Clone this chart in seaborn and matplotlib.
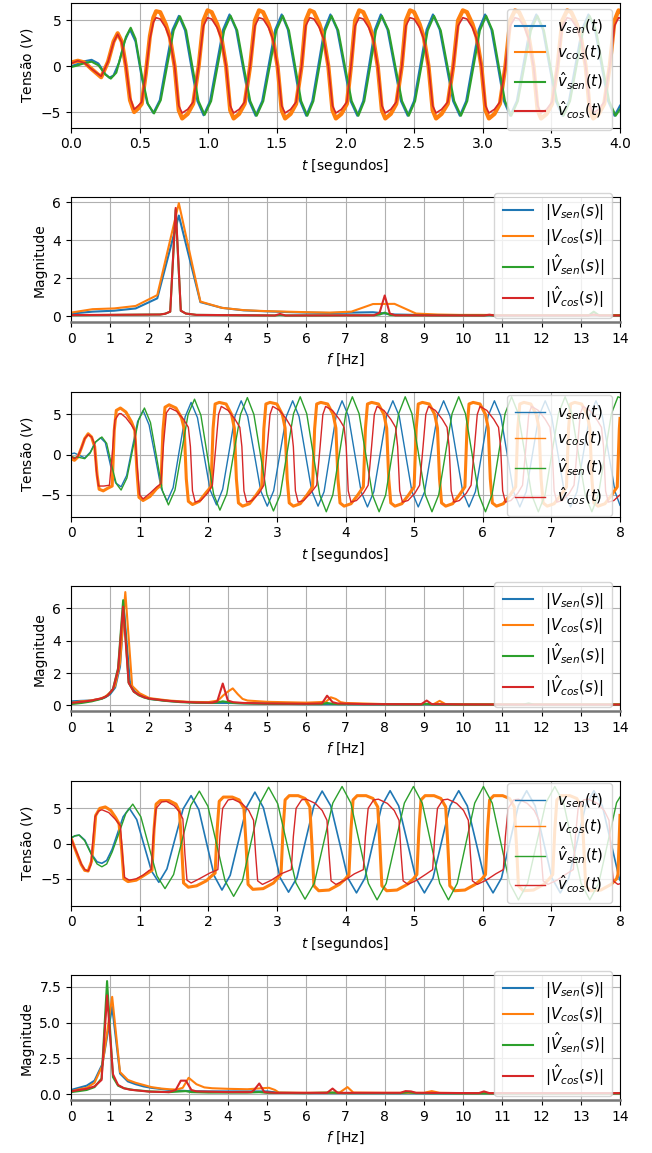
import matplotlib
matplotlib.use("Agg")
import matplotlib.pyplot as plt
import seaborn as sns

# ---- panel 1: time response, t in [0, 4] s  (t, V) pairs
p1_vsen = [(0.00, 0.0), (0.05, 0.25), (0.10, 0.55), (0.15, 0.7), (0.20, 0.3), (0.25, -0.85), (0.28, -1.25),
           (0.31, -1.0), (0.35, 0.4), (0.39, 2.7), (0.43, 4.0), (0.47, 2.7), (0.515, -1.2), (0.555, -4.0),
           (0.600, -5.1), (0.647, -3.7), (0.693, 0.2), (0.740, 4.0), (0.786, 5.5), (0.831, 3.9), (0.876, 0.0),
           (0.921, -3.8), (0.966, -5.35), (1.013, -3.8), (1.060, 0.1), (1.108, 4.0), (1.155, 5.65), (1.203, 4.0),
           (1.250, 0.1), (1.298, -3.8), (1.345, -5.4), (1.393, -3.8), (1.440, 0.1), (1.488, 4.0), (1.535, 5.65),
           (1.580, 4.0), (1.625, 0.1), (1.669, -3.8), (1.714, -5.4), (1.758, -3.8), (1.802, 0.1), (1.846, 4.0),
           (1.890, 5.65), (1.939, 4.0), (1.988, 0.1), (2.037, -3.8), (2.086, -5.4), (2.129, -3.8), (2.172, 0.1),
           (2.214, 4.0), (2.257, 5.65), (2.306, 4.0), (2.355, 0.1), (2.404, -3.8), (2.453, -5.4), (2.499, -3.8),
           (2.545, 0.1), (2.591, 4.0), (2.637, 5.65), (2.686, 4.0), (2.735, 0.1), (2.784, -3.8), (2.833, -5.4),
           (2.879, -3.8), (2.925, 0.1), (2.971, 4.0), (3.017, 5.65), (3.063, 4.0), (3.109, 0.1), (3.154, -3.8),
           (3.200, -5.4), (3.248, -3.8), (3.295, 0.1), (3.343, 4.0), (3.390, 5.65), (3.438, 4.0), (3.485, 0.1),
           (3.533, -3.8), (3.580, -5.4), (3.628, -3.8), (3.675, 0.1), (3.723, 4.0), (3.770, 5.65), (3.818, 4.0),
           (3.865, 0.1), (3.913, -3.8), (3.960, -5.4), (4.000, -4.3)]
p1_vcos = [(0.00, 0.4), (0.05, 0.6), (0.10, 0.4), (0.15, -0.3), (0.22, -1.2), (0.27, 0.5), (0.31, 2.7), (0.34, 3.6),
           (0.37, 2.7), (0.40, 0.0), (0.43, -3.7), (0.46, -5.0), (0.49, -4.6), (0.515, -4.1), (0.545, -0.8),
           (0.575, 3.3), (0.60, 5.3),
           (0.62, 6.0), (0.65, 5.9), (0.69, 4.6), (0.72, 3.2), (0.755, 0.0), (0.785, -4.8), (0.81, -5.7),
           (0.85, -5.2), (0.89, -4.1), (0.93, 0.0), (0.965, 5.0),
           (0.995, 6.1), (1.025, 5.9), (1.065, 4.6), (1.095, 3.2), (1.13, 0.0), (1.16, -4.8), (1.185, -5.7),
           (1.225, -5.2), (1.265, -4.1), (1.305, 0.0), (1.34, 5.0),
           (1.37, 6.1), (1.40, 5.9), (1.44, 4.6), (1.47, 3.2), (1.505, 0.0), (1.535, -4.8), (1.56, -5.7),
           (1.60, -5.2), (1.64, -4.1), (1.68, 0.0), (1.71, 5.0),
           (1.74, 6.1), (1.77, 5.9), (1.81, 4.6), (1.84, 3.2), (1.875, 0.0), (1.905, -4.8), (1.93, -5.7),
           (1.97, -5.2), (2.01, -4.1), (2.04, 0.0), (2.07, 5.0),
           (2.10, 6.1), (2.13, 5.9), (2.17, 4.6), (2.20, 3.2), (2.235, 0.0), (2.265, -4.8), (2.29, -5.7),
           (2.33, -5.2), (2.37, -4.1), (2.41, 0.0), (2.44, 5.0),
           (2.47, 6.1), (2.50, 5.9), (2.54, 4.6), (2.57, 3.2), (2.605, 0.0), (2.635, -4.8), (2.66, -5.7),
           (2.70, -5.2), (2.745, -4.1), (2.785, 0.0), (2.82, 5.0),
           (2.855, 6.1), (2.885, 5.9), (2.925, 4.6), (2.955, 3.2), (2.99, 0.0), (3.02, -4.8), (3.045, -5.7),
           (3.085, -5.2), (3.125, -4.1), (3.165, 0.0), (3.20, 5.0),
           (3.235, 6.1), (3.265, 5.9), (3.305, 4.6), (3.335, 3.2), (3.37, 0.0), (3.40, -4.8), (3.425, -5.7),
           (3.465, -5.2), (3.505, -4.1), (3.545, 0.0), (3.58, 5.0),
           (3.615, 6.1), (3.645, 5.9), (3.685, 4.6), (3.715, 3.2), (3.75, 0.0), (3.78, -4.8), (3.805, -5.7),
           (3.845, -5.2), (3.885, -4.1), (3.925, 0.0), (3.96, 5.0),
           (3.99, 6.1), (4.00, 6.0)]
p1_vsen_hat = [(0.00, -0.1), (0.05, 0.1), (0.10, 0.35), (0.15, 0.5), (0.20, 0.1), (0.25, -0.9), (0.29, -1.35),
               (0.33, -0.7), (0.37, 1.5), (0.40, 3.2), (0.435, 4.2), (0.47, 3.0), (0.52, -1.3), (0.56, -4.1),
               (0.605, -5.15), (0.654, -3.7), (0.701, 0.1), (0.748, 3.9), (0.794, 5.45), (0.839, 3.9), (0.884, 0.0),
               (0.929, -3.8), (0.974, -5.3), (1.021, -3.8), (1.068, 0.0), (1.116, 3.9), (1.163, 5.5), (1.211, 3.9),
               (1.258, 0.0), (1.306, -3.8), (1.353, -5.4), (1.401, -3.8), (1.448, 0.0), (1.496, 3.9), (1.543, 5.5),
               (1.588, 3.9), (1.633, 0.0), (1.677, -3.8), (1.722, -5.4), (1.766, -3.8), (1.810, 0.0), (1.854, 3.9),
               (1.898, 5.5), (1.947, 3.9), (1.996, 0.0), (2.045, -3.8), (2.094, -5.4), (2.137, -3.8), (2.180, 0.0),
               (2.222, 3.9), (2.265, 5.5), (2.314, 3.9), (2.363, 0.0), (2.412, -3.8), (2.461, -5.4), (2.507, -3.8),
               (2.553, 0.0), (2.599, 3.9), (2.645, 5.5), (2.694, 3.9), (2.743, 0.0), (2.792, -3.8), (2.841, -5.4),
               (2.887, -3.8), (2.933, 0.0), (2.979, 3.9), (3.025, 5.5), (3.071, 3.9), (3.117, 0.0), (3.162, -3.8),
               (3.208, -5.4), (3.256, -3.8), (3.303, 0.0), (3.351, 3.9), (3.398, 5.5), (3.446, 3.9), (3.493, 0.0),
               (3.541, -3.8), (3.588, -5.4), (3.636, -3.8), (3.683, 0.0), (3.731, 3.9), (3.778, 5.5), (3.826, 3.9),
               (3.873, 0.0), (3.921, -3.8), (3.968, -5.4), (4.000, -4.7)]
p1_vcos_hat = [(0.00, 0.3), (0.05, 0.6), (0.10, 0.35), (0.15, -0.3), (0.22, -1.1), (0.27, 0.5), (0.31, 2.6),
               (0.34, 3.5), (0.37, 2.6), (0.40, 0.0), (0.43, -3.4), (0.46, -4.7), (0.49, -4.3), (0.515, -3.9),
               (0.545, -0.8), (0.575, 3.0), (0.60, 4.8),
               (0.62, 5.3), (0.65, 5.15), (0.69, 4.2), (0.72, 3.0), (0.755, 0.0), (0.785, -4.3), (0.81, -5.1),
               (0.85, -4.7), (0.89, -3.9), (0.93, 0.0), (0.965, 4.4),
               (0.995, 5.3), (1.025, 5.15), (1.065, 4.2), (1.095, 3.0), (1.13, 0.0), (1.16, -4.3), (1.185, -5.1),
               (1.225, -4.7), (1.265, -3.9), (1.305, 0.0), (1.34, 4.4),
               (1.37, 5.3), (1.40, 5.15), (1.44, 4.2), (1.47, 3.0), (1.505, 0.0), (1.535, -4.3), (1.56, -5.1),
               (1.60, -4.7), (1.64, -3.9), (1.68, 0.0), (1.71, 4.4),
               (1.74, 5.3), (1.77, 5.15), (1.81, 4.2), (1.84, 3.0), (1.875, 0.0), (1.905, -4.3), (1.93, -5.1),
               (1.97, -4.7), (2.01, -3.9), (2.04, 0.0), (2.07, 4.4),
               (2.10, 5.3), (2.13, 5.15), (2.17, 4.2), (2.20, 3.0), (2.235, 0.0), (2.265, -4.3), (2.29, -5.1),
               (2.33, -4.7), (2.37, -3.9), (2.41, 0.0), (2.44, 4.4),
               (2.47, 5.3), (2.50, 5.15), (2.54, 4.2), (2.57, 3.0), (2.605, 0.0), (2.635, -4.3), (2.66, -5.1),
               (2.70, -4.7), (2.745, -3.9), (2.785, 0.0), (2.82, 4.4),
               (2.855, 5.3), (2.885, 5.15), (2.925, 4.2), (2.955, 3.0), (2.99, 0.0), (3.02, -4.3), (3.045, -5.1),
               (3.085, -4.7), (3.125, -3.9), (3.165, 0.0), (3.20, 4.4),
               (3.235, 5.3), (3.265, 5.15), (3.305, 4.2), (3.335, 3.0), (3.37, 0.0), (3.40, -4.3), (3.425, -5.1),
               (3.465, -4.7), (3.505, -3.9), (3.545, 0.0), (3.58, 4.4),
               (3.615, 5.3), (3.645, 5.15), (3.685, 4.2), (3.715, 3.0), (3.75, 0.0), (3.78, -4.3), (3.805, -5.1),
               (3.845, -4.7), (3.885, -3.9), (3.925, 0.0), (3.96, 4.4),
               (3.99, 5.3), (4.00, 5.25)]

# ---- panel 3: time response, t in [0, 8] s
p3_vsen = [(0.00, 0.1), (0.05, 0.2), (0.10, 0.0), (0.20, -0.4), (0.28, 0.3), (0.35, 1.5), (0.43, 2.1), (0.50, 1.5),
           (0.58, -1.5), (0.65, -3.5), (0.73, -4.0), (0.81, -2.6), (0.89, 0.75), (0.97, 4.1), (1.05, 5.5),
           (1.138, 3.7), (1.225, -0.15), (1.313, -4.15), (1.40, -5.8), (1.488, -4.1), (1.575, 0.35), (1.663, 4.7),
           (1.75, 6.5), (1.843, 4.6), (1.935, 0.1), (2.028, -4.4), (2.12, -6.25), (2.21, -4.3), (2.30, 0.2),
           (2.39, 4.8), (2.48, 6.7), (2.575, 4.75), (2.67, 0.15), (2.765, -4.5), (2.86, -6.4), (2.953, -4.5),
           (3.045, 0.15), (3.138, 4.75), (3.23, 6.7), (3.323, 4.75), (3.415, 0.15), (3.508, -4.5), (3.60, -6.4),
           (3.688, -4.6), (3.775, 0.1), (3.863, 4.8), (3.95, 6.7), (4.043, 4.8), (4.135, 0.1), (4.228, -4.6),
           (4.32, -6.5), (4.413, -4.6), (4.505, 0.1), (4.598, 4.8), (4.69, 6.7), (4.783, 4.8), (4.875, 0.1),
           (4.968, -4.6), (5.06, -6.5), (5.153, -4.6), (5.245, 0.1), (5.338, 4.8), (5.43, 6.7), (5.523, 4.8),
           (5.615, 0.1), (5.708, -4.6), (5.80, -6.5), (5.893, -4.6), (5.985, 0.1), (6.078, 4.8), (6.17, 6.7),
           (6.263, 4.8), (6.355, 0.1), (6.448, -4.6), (6.54, -6.5), (6.633, -4.6), (6.725, 0.1), (6.818, 4.8),
           (6.91, 6.7), (7.003, 4.8), (7.095, 0.1), (7.188, -4.6), (7.28, -6.5), (7.373, -4.6), (7.465, 0.1),
           (7.558, 4.8), (7.65, 6.7), (7.743, 4.8), (7.835, 0.1), (7.928, -4.6), (8.00, -6.3)]
p3_vcos = [(0.00, -0.5), (0.05, -0.7), (0.10, -0.3), (0.15, 0.8), (0.20, 2.0), (0.25, 2.6), (0.30, 2.2), (0.345, 1.0),
           (0.38, -2.5), (0.41, -4.3), (0.47, -4.5), (0.53, -4.2),
           (0.60, -3.9), (0.63, 3.0), (0.66, 5.5), (0.72, 5.8), (0.80, 5.3), (0.88, 4.1), (0.93, 3.0), (0.96, -2.0),
           (0.99, -5.3), (1.05, -5.7), (1.15, -5.2), (1.25, -4.2),
           (1.31, -3.8), (1.34, 3.0), (1.37, 5.9), (1.43, 6.2), (1.53, 5.8), (1.61, 4.6), (1.65, 3.2), (1.68, -3.0),
           (1.71, -5.8), (1.77, -6.2), (1.87, -5.8), (1.97, -4.7),
           (2.04, -4.0), (2.07, 3.2), (2.10, 6.3), (2.16, 6.5), (2.26, 6.3), (2.34, 5.0), (2.38, 3.3), (2.41, -3.0),
           (2.44, -6.0), (2.50, -6.4), (2.60, -6.1), (2.70, -5.0),
           (2.78, -4.0), (2.81, 3.2), (2.84, 6.3), (2.90, 6.5), (3.00, 6.3), (3.08, 5.0), (3.12, 3.3), (3.15, -3.0),
           (3.18, -6.0), (3.24, -6.4), (3.34, -6.1), (3.44, -5.0),
           (3.52, -4.0), (3.55, 3.2), (3.58, 6.3), (3.64, 6.5), (3.74, 6.3), (3.82, 5.0), (3.86, 3.3), (3.89, -3.0),
           (3.92, -6.0), (3.98, -6.4), (4.08, -6.1), (4.18, -5.0),
           (4.26, -4.0), (4.29, 3.2), (4.32, 6.3), (4.38, 6.5), (4.48, 6.3), (4.56, 5.0), (4.60, 3.3), (4.63, -3.0),
           (4.66, -6.0), (4.72, -6.4), (4.82, -6.1), (4.92, -5.0),
           (5.00, -4.0), (5.03, 3.2), (5.06, 6.3), (5.12, 6.5), (5.22, 6.3), (5.30, 5.0), (5.34, 3.3), (5.37, -3.0),
           (5.40, -6.0), (5.46, -6.4), (5.56, -6.1), (5.66, -5.0),
           (5.74, -4.0), (5.77, 3.2), (5.80, 6.3), (5.86, 6.5), (5.96, 6.3), (6.04, 5.0), (6.08, 3.3), (6.11, -3.0),
           (6.14, -6.0), (6.20, -6.4), (6.30, -6.1), (6.40, -5.0),
           (6.48, -4.0), (6.51, 3.2), (6.54, 6.3), (6.60, 6.5), (6.70, 6.3), (6.78, 5.0), (6.82, 3.3), (6.85, -3.0),
           (6.88, -6.0), (6.94, -6.4), (7.04, -6.1), (7.14, -5.0),
           (7.22, -4.0), (7.25, 3.2), (7.28, 6.3), (7.34, 6.5), (7.44, 6.3), (7.52, 5.0), (7.56, 3.3), (7.59, -3.0),
           (7.62, -6.0), (7.68, -6.4), (7.78, -6.1), (7.88, -5.0),
           (7.96, -4.0), (7.99, 3.2), (8.00, 4.5)]
p3_vsen_hat = [(0.00, -0.2), (0.05, -0.35), (0.10, -0.3), (0.20, -0.5), (0.28, 0.2), (0.36, 1.6), (0.45, 2.2),
               (0.52, 1.4), (0.60, -1.6), (0.66, -3.6), (0.73, -4.4), (0.815, -2.9), (0.90, 0.7), (0.985, 4.3),
               (1.07, 5.8), (1.158, 4.0), (1.245, -0.2), (1.333, -4.5), (1.42, -6.25), (1.515, -4.4), (1.61, 0.3),
               (1.705, 4.95), (1.80, 6.9), (1.893, 4.9), (1.985, 0.0), (2.078, -4.9), (2.17, -6.9), (2.27, -4.9),
               (2.37, 0.1), (2.47, 5.0), (2.57, 7.1), (2.665, 5.0), (2.76, 0.05), (2.855, -4.95), (2.95, -7.0),
               (3.048, -5.0), (3.145, 0.05), (3.243, 5.1), (3.34, 7.2), (3.435, 5.1), (3.53, 0.05), (3.625, -5.0),
               (3.72, -7.1), (3.815, -5.0), (3.91, 0.05), (4.005, 5.1), (4.10, 7.2), (4.198, 5.1), (4.295, 0.05),
               (4.393, -5.0), (4.49, -7.1), (4.585, -5.0), (4.68, 0.05), (4.775, 5.1), (4.87, 7.2), (4.968, 5.1),
               (5.065, 0.05), (5.163, -5.0), (5.26, -7.1), (5.358, -5.0), (5.455, 0.05), (5.553, 5.1), (5.65, 7.2),
               (5.748, 5.1), (5.845, 0.05), (5.943, -5.0), (6.04, -7.1), (6.135, -5.0), (6.23, 0.05), (6.325, 5.1),
               (6.42, 7.2), (6.518, 5.1), (6.615, 0.05), (6.713, -5.0), (6.81, -7.1), (6.908, -5.0), (7.005, 0.05),
               (7.103, 5.1), (7.20, 7.2), (7.298, 5.1), (7.395, 0.05), (7.493, -5.0), (7.59, -7.1), (7.685, -5.0),
               (7.78, 0.05), (7.875, 5.1), (7.97, 7.2), (8.00, 7.1)]
p3_vcos_hat = [(0.00, -0.2), (0.05, -0.5), (0.10, -0.2), (0.15, 0.8), (0.20, 2.0), (0.25, 2.5), (0.30, 2.2),
               (0.34, 1.4), (0.37, -2.0), (0.40, -3.9), (0.48, -3.9), (0.56, -3.8),
               (0.60, 0.0), (0.64, 4.3), (0.70, 5.1), (0.73, 5.1), (0.80, 4.6), (0.88, 3.7), (0.93, 3.0), (0.96, -1.0),
               (1.00, -5.0), (1.05, -5.5), (1.15, -4.8), (1.25, -4.0), (1.31, -3.6), (1.35, 1.5), (1.39, 5.2),
               (1.44, 5.8), (1.54, 5.4), (1.64, 4.4), (1.71, 3.4), (1.74, 1.0), (1.77, -4.5), (1.81, -5.9),
               (1.89, -5.7), (1.99, -4.8), (2.06, -3.8), (2.11, 1.0), (2.15, 5.0),
               (2.19, 6.0), (2.29, 5.5), (2.39, 4.4), (2.46, 3.4), (2.49, 1.0), (2.52, -4.5), (2.56, -5.9),
               (2.64, -5.7), (2.74, -4.8), (2.81, -3.8), (2.86, 1.0), (2.90, 5.0),
               (2.94, 6.0), (3.04, 5.5), (3.14, 4.4), (3.21, 3.4), (3.24, 1.0), (3.27, -4.5), (3.31, -5.9),
               (3.39, -5.7), (3.49, -4.8), (3.58, -3.8), (3.63, 1.0), (3.67, 5.0),
               (3.71, 6.0), (3.81, 5.5), (3.91, 4.4), (3.98, 3.4), (4.01, 1.0), (4.04, -4.5), (4.08, -5.9),
               (4.16, -5.7), (4.26, -4.8), (4.33, -3.8), (4.38, 1.0), (4.42, 5.0),
               (4.46, 6.0), (4.56, 5.5), (4.66, 4.4), (4.73, 3.4), (4.76, 1.0), (4.79, -4.5), (4.83, -5.9),
               (4.91, -5.7), (5.01, -4.8), (5.08, -3.8), (5.13, 1.0), (5.17, 5.0),
               (5.21, 6.0), (5.31, 5.5), (5.41, 4.4), (5.48, 3.4), (5.51, 1.0), (5.54, -4.5), (5.58, -5.9),
               (5.66, -5.7), (5.76, -4.8), (5.83, -3.8), (5.88, 1.0), (5.92, 5.0),
               (5.96, 6.0), (6.06, 5.5), (6.16, 4.4), (6.23, 3.4), (6.26, 1.0), (6.29, -4.5), (6.33, -5.9),
               (6.41, -5.7), (6.51, -4.8), (6.58, -3.8), (6.63, 1.0), (6.67, 5.0),
               (6.71, 6.0), (6.81, 5.5), (6.91, 4.4), (6.98, 3.4), (7.01, 1.0), (7.04, -4.5), (7.08, -5.9),
               (7.16, -5.7), (7.26, -4.8), (7.33, -3.8), (7.38, 1.0), (7.42, 5.0),
               (7.46, 6.0), (7.56, 5.5), (7.66, 4.4), (7.73, 3.4), (7.76, 1.0), (7.79, -4.5), (7.83, -5.9),
               (7.91, -5.7), (8.00, -5.0)]

# ---- panel 5: time response, t in [0, 8] s
p5_vsen = [(0.00, 0.8), (0.06, 1.1), (0.12, 1.2), (0.20, 0.5), (0.30, -1.5), (0.38, -2.6), (0.45, -2.8), (0.52, -2.4),
           (0.60, -0.8), (0.68, 1.5), (0.76, 3.8), (0.85, 5.0), (0.958, 3.4), (1.065, -0.25), (1.173, -3.9),
           (1.28, -5.5), (1.398, -3.6), (1.515, 0.65), (1.633, 4.9), (1.75, 6.8), (1.863, 4.8), (1.975, 0.1),
           (2.088, -4.6), (2.20, -6.6), (2.32, -4.5), (2.44, 0.35), (2.56, 5.2), (2.68, 7.3), (2.803, 5.1),
           (2.925, 0.2), (3.048, -4.85), (3.17, -6.9), (3.293, -4.85), (3.415, 0.3), (3.538, 5.3), (3.66, 7.45),
           (3.785, 5.35), (3.91, 0.25), (4.035, -4.9), (4.16, -7.0), (4.283, -4.9), (4.405, 0.25), (4.528, 5.35),
           (4.65, 7.5), (4.775, 5.35), (4.90, 0.25), (5.025, -4.9), (5.15, -7.0), (5.275, -4.9), (5.40, 0.25),
           (5.525, 5.35), (5.65, 7.5), (5.775, 5.35), (5.90, 0.25), (6.025, -4.9), (6.15, -7.0), (6.273, -4.9),
           (6.395, 0.25), (6.518, 5.35), (6.64, 7.5), (6.763, 5.35), (6.885, 0.25), (7.008, -4.9), (7.13, -7.0),
           (7.253, -4.9), (7.375, 0.25), (7.498, 5.35), (7.62, 7.5), (7.743, 5.35), (7.865, 0.25), (7.988, -4.9),
           (8.00, -5.2)]
p5_vcos = [(0.00, 0.8), (0.05, -0.5), (0.10, -1.8), (0.15, -3.0), (0.20, -3.8), (0.25, -3.9), (0.30, -2.5), (0.33, 0.5),
           (0.36, 4.0), (0.42, 5.0), (0.50, 5.2), (0.58, 4.7), (0.65, 3.7), (0.70, 2.8), (0.74, -1.0), (0.77, -5.0),
           (0.83, -5.4), (0.95, -5.2), (1.05, -4.6),
           (1.18, -3.8), (1.21, 2.0), (1.24, 5.6), (1.30, 6.1), (1.43, 6.1), (1.53, 5.6), (1.58, 4.6), (1.61, 0.0),
           (1.64, -5.6), (1.71, -6.2), (1.83, -6.0), (1.97, -5.3), (2.06, -4.5),
           (2.10, -4.2), (2.13, 2.0), (2.16, 6.0), (2.22, 6.6), (2.35, 6.6), (2.45, 6.2), (2.52, 5.0), (2.55, 0.0),
           (2.58, -5.8), (2.65, -6.5), (2.80, -6.4), (2.95, -5.6), (3.02, -4.8),
           (3.06, -4.4), (3.09, 2.0), (3.12, 6.2), (3.18, 6.8), (3.31, 6.8), (3.41, 6.4), (3.48, 5.2), (3.51, 0.0),
           (3.54, -6.0), (3.61, -6.7), (3.76, -6.6), (3.91, -5.8), (4.00, -5.0),
           (4.05, -4.4), (4.08, 2.0), (4.11, 6.2), (4.17, 6.8), (4.30, 6.8), (4.40, 6.4), (4.47, 5.2), (4.50, 0.0),
           (4.53, -6.0), (4.60, -6.7), (4.75, -6.6), (4.90, -5.8), (4.99, -5.0),
           (5.04, -4.4), (5.07, 2.0), (5.10, 6.2), (5.16, 6.8), (5.29, 6.8), (5.39, 6.4), (5.46, 5.2), (5.49, 0.0),
           (5.52, -6.0), (5.59, -6.7), (5.74, -6.6), (5.89, -5.8), (5.99, -5.0),
           (6.04, -4.4), (6.07, 2.0), (6.10, 6.2), (6.16, 6.8), (6.29, 6.8), (6.39, 6.4), (6.46, 5.2), (6.49, 0.0),
           (6.52, -6.0), (6.59, -6.7), (6.74, -6.6), (6.89, -5.8), (6.97, -5.0),
           (7.02, -4.4), (7.05, 2.0), (7.08, 6.2), (7.14, 6.8), (7.27, 6.8), (7.37, 6.4), (7.44, 5.2), (7.47, 0.0),
           (7.50, -6.0), (7.57, -6.7), (7.72, -6.6), (7.87, -5.8), (7.95, -5.0),
           (7.97, -4.4), (8.00, 4.0)]
p5_vsen_hat = [(0.00, 0.8), (0.06, 1.1), (0.12, 1.2), (0.20, 0.4), (0.30, -1.6), (0.38, -2.9), (0.45, -3.3),
               (0.52, -2.9), (0.60, -1.2), (0.70, 1.5), (0.80, 4.3), (0.90, 5.6), (1.018, 3.8), (1.135, -0.4),
               (1.253, -4.6), (1.37, -6.4), (1.495, -4.4), (1.62, 0.5), (1.745, 5.4), (1.87, 7.45), (1.995, 5.3),
               (2.12, 0.0), (2.245, -5.3), (2.37, -7.5), (2.498, -5.3), (2.625, 0.25), (2.753, 5.7), (2.88, 8.0),
               (3.013, 5.65), (3.145, 0.05), (3.278, -5.6), (3.41, -7.9), (3.545, -5.65), (3.68, 0.05), (3.815, 5.75),
               (3.95, 8.1), (4.078, 5.75), (4.205, 0.05), (4.333, -5.65), (4.46, -8.0), (4.593, -5.65), (4.725, 0.05),
               (4.858, 5.75), (4.99, 8.1), (5.118, 5.75), (5.245, 0.05), (5.373, -5.65), (5.50, -8.0), (5.628, -5.65),
               (5.755, 0.05), (5.883, 5.75), (6.01, 8.1), (6.138, 5.75), (6.265, 0.05), (6.393, -5.65), (6.52, -8.0),
               (6.653, -5.65), (6.785, 0.05), (6.918, 5.75), (7.05, 8.1), (7.178, 5.75), (7.305, 0.05), (7.433, -5.65),
               (7.56, -8.0), (7.69, -5.65), (7.82, 0.05), (7.95, 5.8), (8.00, 6.6)]
p5_vcos_hat = [(0.00, 0.8), (0.05, -0.5), (0.10, -1.6), (0.15, -2.9), (0.20, -3.7), (0.25, -3.9), (0.29, -3.0),
               (0.32, 0.5), (0.35, 3.8), (0.40, 4.6), (0.45, 4.8), (0.55, 4.4), (0.65, 3.4), (0.72, 2.5), (0.75, -1.5),
               (0.78, -4.8), (0.85, -5.2), (0.95, -5.0), (1.05, -4.5), (1.14, -3.8),
               (1.17, -3.7), (1.20, 1.0), (1.24, 5.0), (1.32, 5.9), (1.39, 6.0), (1.50, 5.4), (1.58, 4.5), (1.63, 3.5),
               (1.66, -1.5), (1.69, -5.2), (1.75, -5.6), (1.87, -5.0), (2.02, -4.2),
               (2.14, -3.7), (2.17, 1.0), (2.21, 5.0), (2.29, 6.2), (2.36, 6.3), (2.49, 5.7), (2.59, 4.7), (2.66, 3.3),
               (2.69, -1.5), (2.72, -5.3), (2.79, -5.8), (2.92, -5.2), (3.06, -4.3),
               (3.21, -3.7), (3.24, 1.0), (3.28, 5.0), (3.36, 6.2), (3.43, 6.3), (3.56, 5.7), (3.66, 4.7), (3.73, 3.3),
               (3.76, -1.5), (3.79, -5.3), (3.86, -5.8), (3.99, -5.2), (4.13, -4.3),
               (4.26, -3.7), (4.29, 1.0), (4.33, 5.0), (4.41, 6.2), (4.48, 6.3), (4.61, 5.7), (4.71, 4.7), (4.78, 3.3),
               (4.81, -1.5), (4.84, -5.3), (4.91, -5.8), (5.04, -5.2), (5.18, -4.3),
               (5.27, -3.7), (5.30, 1.0), (5.34, 5.0), (5.42, 6.2), (5.49, 6.3), (5.62, 5.7), (5.72, 4.7), (5.79, 3.3),
               (5.82, -1.5), (5.85, -5.3), (5.92, -5.8), (6.05, -5.2), (6.19, -4.3),
               (6.30, -3.7), (6.33, 1.0), (6.37, 5.0), (6.45, 6.2), (6.52, 6.3), (6.65, 5.7), (6.75, 4.7), (6.82, 3.3),
               (6.85, -1.5), (6.88, -5.3), (6.95, -5.8), (7.08, -5.2), (7.22, -4.3),
               (7.32, -3.7), (7.35, 1.0), (7.39, 5.0), (7.47, 6.2), (7.54, 6.3), (7.67, 5.7), (7.77, 4.7), (7.84, 3.3),
               (7.87, -1.5), (7.90, -5.3), (7.97, -5.8), (8.00, -5.7)]

# ---- spectra (frequency in Hz, magnitude)
f2_coarse = [0.0, 0.55, 1.1, 1.65, 2.2, 2.75, 3.3, 3.85, 4.4, 4.95, 5.5, 6.05, 6.6, 7.15, 7.7, 8.25, 8.8, 9.35,
             9.9, 10.45, 11.0, 11.55, 12.1, 12.65, 13.2, 13.75, 14.3]
m2_vsen = [0.15, 0.25, 0.3, 0.42, 0.95, 5.3, 0.75, 0.45, 0.32, 0.27, 0.23, 0.2, 0.18, 0.2, 0.22, 0.1, 0.08, 0.07,
           0.07, 0.07, 0.06, 0.06, 0.06, 0.06, 0.06, 0.06, 0.06]
m2_vcos = [0.2, 0.38, 0.42, 0.55, 1.12, 5.95, 0.78, 0.45, 0.33, 0.28, 0.25, 0.22, 0.2, 0.25, 0.65, 0.66, 0.15, 0.1,
           0.08, 0.08, 0.07, 0.07, 0.07, 0.07, 0.07, 0.07, 0.07]
f2_fine = [0.0, 2.27, 2.4, 2.53, 2.67, 2.8, 2.93, 3.2, 5.2, 5.33, 5.47, 7.73, 7.87, 8.0, 8.13, 8.27, 10.53, 10.67,
           10.8, 13.2, 13.33, 13.47, 14.0]
m2_vsen_hat = [0.06, 0.1, 0.14, 0.25, 5.6, 0.3, 0.15, 0.08, 0.05, 0.08, 0.05, 0.06, 0.1, 0.2, 0.08, 0.06, 0.05,
               0.07, 0.05, 0.05, 0.25, 0.05, 0.05]
m2_vcos_hat = [0.07, 0.1, 0.14, 0.25, 5.7, 0.3, 0.15, 0.08, 0.05, 0.13, 0.05, 0.06, 0.2, 1.1, 0.15, 0.06, 0.05,
               0.09, 0.05, 0.05, 0.1, 0.05, 0.05]

f4_vsen = [0, 0.25, 0.5, 0.75, 0.875, 1.0, 1.125, 1.25, 1.35, 1.5, 1.625, 1.75, 2.0, 2.5, 3.0, 3.5, 4.0, 4.5, 5.0,
           6.0, 7.0, 8.0, 10.0, 12.0, 14.0]
m4_vsen = [0.25, 0.28, 0.3, 0.4, 0.5, 0.7, 1.1, 2.4, 5.9, 1.5, 0.85, 0.65, 0.4, 0.27, 0.2, 0.15, 0.15, 0.13, 0.1,
           0.08, 0.07, 0.06, 0.05, 0.05, 0.05]
f4_vcos = [0, 0.25, 0.5, 0.75, 0.875, 1.0, 1.125, 1.25, 1.385, 1.56, 1.75, 2.0, 2.5, 3.0, 3.5, 3.75, 3.875, 4.0,
           4.125, 4.25, 4.375, 4.5, 5.0, 6.0, 6.5, 6.625, 6.75, 6.875, 7.0, 8.0, 9.25, 9.4, 9.55, 10.0, 12.0, 14.0]
m4_vcos = [0.15, 0.25, 0.3, 0.42, 0.55, 0.8, 1.2, 2.6, 7.0, 1.2, 0.75, 0.45, 0.3, 0.22, 0.2, 0.3, 0.6, 0.85,
           1.05, 0.7, 0.4, 0.3, 0.22, 0.17, 0.22, 0.5, 0.4, 0.2, 0.15, 0.08, 0.08, 0.28, 0.08, 0.07, 0.07, 0.07]
f4_hat = [0, 0.27, 0.53, 0.8, 0.93, 1.07, 1.2, 1.33, 1.47, 1.6, 1.73, 1.87, 2.0, 2.4, 2.8, 3.2, 3.6, 3.73, 3.87,
          4.0, 4.13, 4.4, 5.0, 6.0, 6.4, 6.53, 6.67, 6.8, 7.5, 8.93, 9.07, 9.2, 10.0, 11.53, 11.67, 11.8, 14.0]
m4_vsen_hat = [0.08, 0.15, 0.25, 0.42, 0.6, 1.0, 2.3, 6.5, 1.4, 0.85, 0.62, 0.48, 0.4, 0.28, 0.2, 0.16, 0.15,
               0.18, 0.25, 0.2, 0.15, 0.12, 0.1, 0.08, 0.08, 0.15, 0.1, 0.08, 0.07, 0.06, 0.1, 0.06, 0.05, 0.05,
               0.12, 0.05, 0.05]
m4_vcos_hat = [0.15, 0.22, 0.3, 0.45, 0.6, 1.0, 2.2, 6.1, 1.4, 0.85, 0.65, 0.5, 0.42, 0.3, 0.22, 0.18, 0.17,
               0.25, 1.35, 0.3, 0.2, 0.15, 0.12, 0.1, 0.12, 0.6, 0.2, 0.12, 0.08, 0.07, 0.3, 0.08, 0.06, 0.05,
               0.05, 0.05, 0.05]

f6_vsen = [0, 0.2, 0.4, 0.6, 0.8, 1.05, 1.25, 1.45, 1.65, 1.85, 2.05, 2.5, 3.0, 3.5, 4.0, 4.5, 5.0, 5.3, 6.0,
           8.0, 10.0, 12.0, 14.0]
m6_vsen = [0.3, 0.45, 0.6, 0.95, 2.1, 6.1, 1.45, 0.9, 0.7, 0.55, 0.45, 0.3, 0.22, 0.2, 0.2, 0.2, 0.2, 0.1, 0.08,
           0.07, 0.06, 0.06, 0.06]
f6_vcos = [0, 0.2, 0.4, 0.6, 0.8, 1.05, 1.25, 1.45, 1.65, 1.85, 2.05, 2.3, 2.5, 2.7, 2.85, 3.0, 3.2, 3.4, 3.6,
           4.0, 4.5, 4.85, 5.05, 5.2, 5.3, 6.0, 6.85, 7.05, 7.2, 8.0, 9.0, 9.2, 9.4, 10.0, 12.0, 14.0]
m6_vcos = [0.2, 0.35, 0.45, 0.8, 2.0, 6.8, 1.55, 1.0, 0.8, 0.65, 0.5, 0.4, 0.35, 0.33, 0.45, 1.15, 0.7, 0.48,
           0.42, 0.38, 0.35, 0.42, 0.45, 0.3, 0.12, 0.1, 0.12, 0.5, 0.12, 0.1, 0.1, 0.22, 0.1, 0.08, 0.07, 0.07]
f6_vsen_hat = [0, 0.2, 0.4, 0.6, 0.78, 0.92, 1.07, 1.2, 1.35, 1.6, 2.0, 2.5, 2.8, 2.93, 3.07, 3.5, 4.5, 4.8, 5.0,
               6.0, 6.67, 7.0, 8.4, 8.6, 8.8, 10.0, 12.0, 14.0]
m6_vsen_hat = [0.15, 0.22, 0.3, 0.5, 1.1, 7.9, 1.2, 0.6, 0.42, 0.3, 0.2, 0.15, 0.2, 0.22, 0.15, 0.12, 0.12, 0.15,
               0.1, 0.08, 0.12, 0.08, 0.08, 0.15, 0.08, 0.06, 0.06, 0.06]
f6_vcos_hat = [0, 0.2, 0.4, 0.6, 0.78, 0.92, 1.07, 1.2, 1.35, 1.5, 2.0, 2.5, 2.67, 2.8, 2.93, 3.07, 3.2, 4.0, 4.6,
               4.67, 4.8, 4.93, 5.2, 6.0, 6.53, 6.67, 6.8, 8.4, 8.53, 8.67, 8.8, 10.4, 10.53, 10.67, 12.0, 14.0]
m6_vcos_hat = [0.2, 0.3, 0.38, 0.55, 1.0, 6.9, 1.4, 0.65, 0.42, 0.32, 0.18, 0.15, 0.3, 0.95, 0.95, 0.3, 0.2, 0.15,
               0.15, 0.3, 0.75, 0.15, 0.1, 0.1, 0.1, 0.4, 0.1, 0.1, 0.22, 0.2, 0.1, 0.08, 0.2, 0.08, 0.08, 0.08]

colors = ["#1f77b4", "#ff7f0e", "#2ca02c", "#d62728"]
time_labels = [r"$v_{sen}(t)$", r"$v_{cos}(t)$", r"$\hat{v}_{sen}(t)$", r"$\hat{v}_{cos}(t)$"]
freq_labels = [r"$|V_{sen}(s)|$", r"$|V_{cos}(s)|$", r"$|\hat{V}_{sen}(s)|$", r"$|\hat{V}_{cos}(s)|$"]

AX_W, AX_H = 549, 125   # axes size in pixels, used to place the legends


def time_panel(ax, series, widths, leg_lw, xmax, xticks, ylim, top_gap):
    for pts, lab, c, w in zip(series, time_labels, colors, widths):
        t, v = zip(*pts)
        sns.lineplot(x=list(t), y=list(v), ax=ax, color=c, linewidth=w, label=lab,
                     estimator=None, sort=False)
    ax.set_xlim(0, xmax)
    ax.set_ylim(*ylim)
    ax.set_xticks(xticks)
    ax.set_yticks([-5, 0, 5])
    ax.set_xlabel(r"$t$ [segundos]")
    ax.set_ylabel(r"Tensão ($V$)")
    ax.grid(True)
    leg = ax.legend(loc="upper right", fontsize=10.8, labelspacing=0.55, borderpad=0.55, borderaxespad=0,
                    bbox_to_anchor=(1 - 8 / AX_W, 1 - top_gap / AX_H))
    for h in leg.get_lines():
        h.set_linewidth(leg_lw)


def freq_panel(ax, series, ylim, yticks):
    for (f, m), lab, c in zip(series, freq_labels, colors):
        sns.lineplot(x=f, y=m, ax=ax, color=c, linewidth=1.5, label=lab, estimator=None, sort=False)
    ax.set_xlim(0, 14)
    ax.set_ylim(*ylim)
    ax.set_xticks(range(0, 15))
    ax.set_yticks(yticks)
    ax.set_xlabel(r"$f$ [Hz]")
    ax.set_ylabel("Magnitude")
    ax.grid(True)
    ax.spines["bottom"].set_color("#777777")
    ax.spines["bottom"].set_linewidth(1.8)
    ax.legend(loc="upper right", fontsize=10.8, labelspacing=0.36, borderpad=0.55, borderaxespad=0,
              bbox_to_anchor=(1 - 8 / AX_W, 1 + 4 / AX_H))


fig, axes = plt.subplots(6, 1, figsize=(6.52, 11.53), dpi=100)
fig.subplots_adjust(left=71 / 652, right=620 / 652, top=1 - 3 / 1153, bottom=1 - 1100 / 1153, hspace=0.56)

time_panel(axes[0], [p1_vsen, p1_vcos, p1_vsen_hat, p1_vcos_hat], [1.5, 3.0, 1.5, 1.2], 1.5,
           4, [0, 0.5, 1, 1.5, 2, 2.5, 3, 3.5, 4], (-6.7, 6.9), 6)
axes[0].set_xticklabels(["0.0", "0.5", "1.0", "1.5", "2.0", "2.5", "3.0", "3.5", "4.0"])
freq_panel(axes[1], [(f2_coarse, m2_vsen), (f2_coarse, m2_vcos), (f2_fine, m2_vsen_hat), (f2_fine, m2_vcos_hat)],
           (-0.3, 6.25), [0, 2, 4, 6])
time_panel(axes[2], [p3_vsen, p3_vcos, p3_vsen_hat, p3_vcos_hat], [1.0, 2.2, 1.0, 1.0], 1.0,
           8, range(0, 9), (-7.7, 7.8), 3)
freq_panel(axes[3], [(f4_vsen, m4_vsen), (f4_vcos, m4_vcos), (f4_hat, m4_vsen_hat), (f4_hat, m4_vcos_hat)],
           (-0.35, 7.35), [0, 2, 4, 6])
time_panel(axes[4], [p5_vsen, p5_vcos, p5_vsen_hat, p5_vcos_hat], [1.2, 2.2, 1.0, 1.0], 1.0,
           8, range(0, 9), (-8.8, 8.9), 2)
freq_panel(axes[5], [(f6_vsen, m6_vsen), (f6_vcos, m6_vcos), (f6_vsen_hat, m6_vsen_hat),
                     (f6_vcos_hat, m6_vcos_hat)], (-0.4, 8.3), [0, 2.5, 5, 7.5])
axes[5].set_yticklabels(["0.0", "2.5", "5.0", "7.5"])

fig.savefig("out.png", dpi=100)
